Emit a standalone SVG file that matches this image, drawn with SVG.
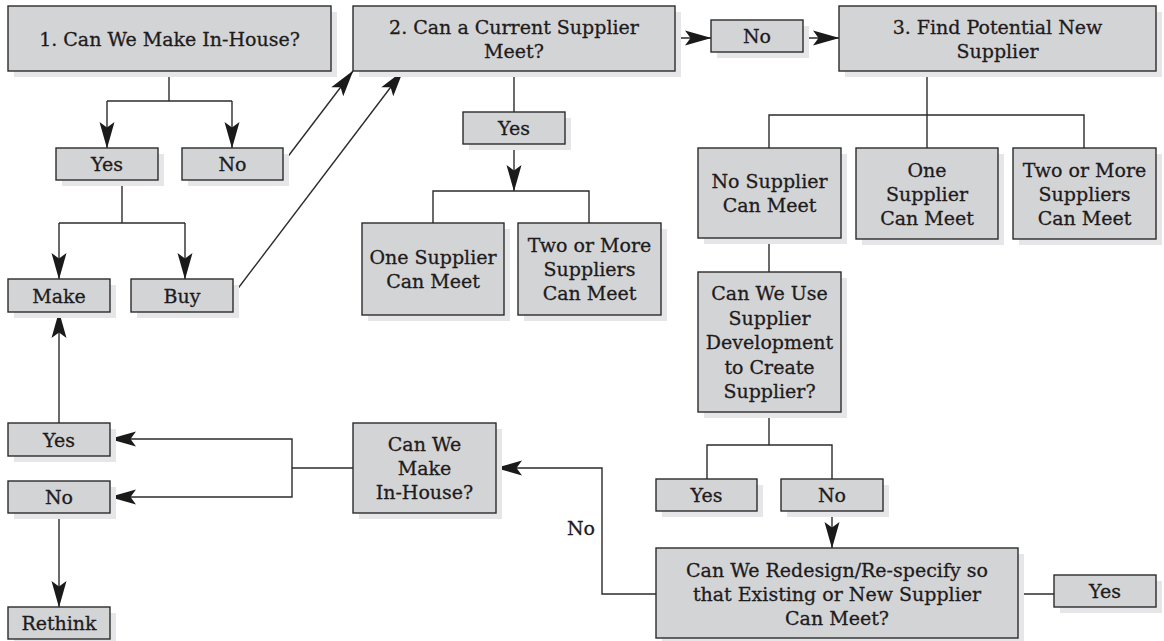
<svg xmlns="http://www.w3.org/2000/svg" width="1164" height="641" viewBox="0 0 1164 641">
  <style>
    .box rect.face { fill: #d3d4d6; stroke: #2b2b2b; stroke-width: 1.4; }
    .box rect.shade { fill: #e6e6e8; stroke: none; }
    .box text { font-family: "DejaVu Serif", "Liberation Serif", serif; font-size: 19px; fill: #1e1b1c; stroke: #1e1b1c; stroke-width: 0.3; text-anchor: middle; }
    .lbl { font-family: "DejaVu Serif", "Liberation Serif", serif; font-size: 19px; fill: #1e1b1c; stroke: #1e1b1c; stroke-width: 0.3; }
    .wire { fill: none; stroke: #2b2b2b; stroke-width: 1.4; }
    .arr { marker-end: url(#head); }
  </style>
  <defs>
    <marker id="head" markerUnits="userSpaceOnUse" markerWidth="30" markerHeight="20" viewBox="-28 -10 30 20" refX="0" refY="0" orient="auto">
      <path d="M0.5,0 L-26,-7.5 L-20.5,0 L-26,7.5 Z" fill="#1a1a1a"/>
    </marker>
  </defs>
  <rect width="1164" height="641" fill="#ffffff"/>

  <!-- connectors -->
  <g id="connectors">
    <!-- step 1 split -->
    <path class="wire" d="M169,71 V101"/>
    <path class="wire" d="M107,101 H232"/>
    <path class="wire arr" d="M107,101 V148"/>
    <path class="wire arr" d="M232,101 V148"/>
    <!-- No / Buy to step 2 -->
    <path class="wire arr" d="M283,163 L353,71"/>
    <path class="wire arr" d="M233,295 L403,71"/>
    <!-- Yes split to Make / Buy -->
    <path class="wire" d="M122,180 V223"/>
    <path class="wire" d="M59,223 H185"/>
    <path class="wire arr" d="M59,223 V279"/>
    <path class="wire arr" d="M185,223 V279"/>
    <!-- step 2 -->
    <path class="wire" d="M514,71 V112"/>
    <path class="wire arr" d="M514,144 V191"/>
    <path class="wire" d="M433,223 V191 H589 V223"/>
    <path class="wire arr" d="M675,38 H711"/>
    <path class="wire arr" d="M803,38 H839"/>
    <!-- step 3 -->
    <path class="wire" d="M927,71 V148"/>
    <path class="wire" d="M769,148 V115 H1084 V148"/>
    <path class="wire" d="M769,238 V272"/>
    <path class="wire" d="M769,412 V445"/>
    <path class="wire" d="M707,479 V445 H832 V479"/>
    <path class="wire arr" d="M832,511 V548"/>
    <path class="wire" d="M1018,594 H1054"/>
    <!-- back loop to make in-house -->
    <path class="wire arr" d="M656,594 H602 V468 H496"/>
    <path class="wire" d="M353,468 H292"/>
    <path class="wire arr" d="M292,468 V439 H110"/>
    <path class="wire arr" d="M292,468 V497 H110"/>
    <path class="wire arr" d="M59,423 V312"/>
    <path class="wire arr" d="M59,513 V607"/>
    <text class="lbl" x="595" y="535" text-anchor="end">No</text>
  </g>

  <g id="q1" class="box">
    <rect class="shade" x="14" y="12" width="323" height="65"/>
    <rect class="face" x="8" y="6" width="323" height="65"/>
    <text x="169.5" y="46">1. Can We Make In-House?</text>
  </g>
  <g id="q2" class="box">
    <rect class="shade" x="359" y="12" width="322" height="65"/>
    <rect class="face" x="353" y="6" width="322" height="65"/>
    <text x="514" y="33.5">2. Can a Current Supplier</text>
    <text x="514" y="57.5">Meet?</text>
  </g>
  <g id="q2-no" class="box">
    <rect class="shade" x="717" y="26" width="92" height="32"/>
    <rect class="face" x="711" y="20" width="92" height="32"/>
    <text x="757" y="43">No</text>
  </g>
  <g id="q3" class="box">
    <rect class="shade" x="845" y="12" width="317" height="65"/>
    <rect class="face" x="839" y="6" width="317" height="65"/>
    <text x="997.5" y="33.5">3. Find Potential New</text>
    <text x="997.5" y="57.5">Supplier</text>
  </g>
  <g id="q1-yes" class="box">
    <rect class="shade" x="62" y="154" width="102" height="32"/>
    <rect class="face" x="56" y="148" width="102" height="32"/>
    <text x="107" y="171">Yes</text>
  </g>
  <g id="q1-no" class="box">
    <rect class="shade" x="188" y="154" width="101" height="32"/>
    <rect class="face" x="182" y="148" width="101" height="32"/>
    <text x="232.5" y="171">No</text>
  </g>
  <g id="q2-yes" class="box">
    <rect class="shade" x="469" y="118" width="102" height="32"/>
    <rect class="face" x="463" y="112" width="102" height="32"/>
    <text x="514" y="135">Yes</text>
  </g>
  <g id="make" class="box">
    <rect class="shade" x="14" y="285" width="102" height="33"/>
    <rect class="face" x="8" y="279" width="102" height="33"/>
    <text x="59" y="302.5">Make</text>
  </g>
  <g id="buy" class="box">
    <rect class="shade" x="137" y="285" width="102" height="33"/>
    <rect class="face" x="131" y="279" width="102" height="33"/>
    <text x="182" y="302.5">Buy</text>
  </g>
  <g id="cur-one" class="box">
    <rect class="shade" x="368" y="229" width="142" height="92"/>
    <rect class="face" x="362" y="223" width="142" height="92"/>
    <text x="433" y="264">One Supplier</text>
    <text x="433" y="288">Can Meet</text>
  </g>
  <g id="cur-two" class="box">
    <rect class="shade" x="524" y="229" width="143" height="92"/>
    <rect class="face" x="518" y="223" width="143" height="92"/>
    <text x="589.5" y="252">Two or More</text>
    <text x="589.5" y="276">Suppliers</text>
    <text x="589.5" y="300">Can Meet</text>
  </g>
  <g id="new-none" class="box">
    <rect class="shade" x="704" y="154" width="143" height="90"/>
    <rect class="face" x="698" y="148" width="143" height="90"/>
    <text x="769.5" y="188">No Supplier</text>
    <text x="769.5" y="212">Can Meet</text>
  </g>
  <g id="new-one" class="box">
    <rect class="shade" x="862" y="154" width="142" height="91"/>
    <rect class="face" x="856" y="148" width="142" height="91"/>
    <text x="927" y="176.5">One</text>
    <text x="927" y="200.5">Supplier</text>
    <text x="927" y="224.5">Can Meet</text>
  </g>
  <g id="new-two" class="box">
    <rect class="shade" x="1019" y="154" width="143" height="91"/>
    <rect class="face" x="1013" y="148" width="143" height="91"/>
    <text x="1084.5" y="176.5">Two or More</text>
    <text x="1084.5" y="200.5">Suppliers</text>
    <text x="1084.5" y="224.5">Can Meet</text>
  </g>
  <g id="develop" class="box">
    <rect class="shade" x="704" y="278" width="143" height="140"/>
    <rect class="face" x="698" y="272" width="143" height="140"/>
    <text x="769.5" y="300">Can We Use</text>
    <text x="769.5" y="324.5">Supplier</text>
    <text x="769.5" y="349">Development</text>
    <text x="769.5" y="373.5">to Create</text>
    <text x="769.5" y="398">Supplier?</text>
  </g>
  <g id="develop-yes" class="box">
    <rect class="shade" x="662" y="485" width="101" height="32"/>
    <rect class="face" x="656" y="479" width="101" height="32"/>
    <text x="706.5" y="502">Yes</text>
  </g>
  <g id="develop-no" class="box">
    <rect class="shade" x="787" y="485" width="102" height="32"/>
    <rect class="face" x="781" y="479" width="102" height="32"/>
    <text x="832" y="502">No</text>
  </g>
  <g id="redesign" class="box">
    <rect class="shade" x="662" y="554" width="362" height="90"/>
    <rect class="face" x="656" y="548" width="362" height="90"/>
    <text x="837" y="577">Can We Redesign/Re-specify so</text>
    <text x="837" y="601">that Existing or New Supplier</text>
    <text x="837" y="625">Can Meet?</text>
  </g>
  <g id="redesign-yes" class="box">
    <rect class="shade" x="1060" y="581" width="102" height="32"/>
    <rect class="face" x="1054" y="575" width="102" height="32"/>
    <text x="1105" y="598">Yes</text>
  </g>
  <g id="inhouse" class="box">
    <rect class="shade" x="359" y="429" width="143" height="90"/>
    <rect class="face" x="353" y="423" width="143" height="90"/>
    <text x="424.5" y="451">Can We</text>
    <text x="424.5" y="475">Make</text>
    <text x="424.5" y="499">In-House?</text>
  </g>
  <g id="inhouse-yes" class="box">
    <rect class="shade" x="14" y="429" width="102" height="33"/>
    <rect class="face" x="8" y="423" width="102" height="33"/>
    <text x="59" y="446.5">Yes</text>
  </g>
  <g id="inhouse-no" class="box">
    <rect class="shade" x="14" y="487" width="102" height="32"/>
    <rect class="face" x="8" y="481" width="102" height="32"/>
    <text x="59" y="504">No</text>
  </g>
  <g id="rethink" class="box">
    <rect class="shade" x="14" y="613" width="102" height="32"/>
    <rect class="face" x="8" y="607" width="102" height="32"/>
    <text x="59" y="630">Rethink</text>
  </g>
</svg>
